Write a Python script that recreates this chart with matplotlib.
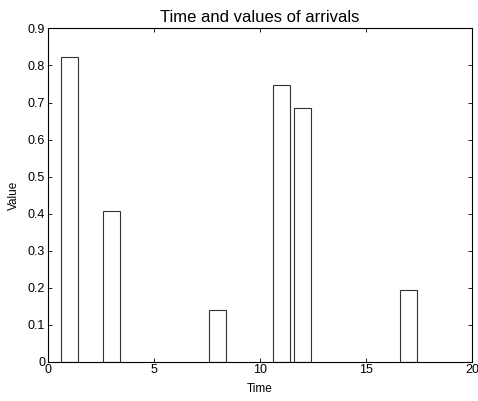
import matplotlib
matplotlib.use("Agg")
import matplotlib.pyplot as plt
from matplotlib.ticker import MultipleLocator

times = [1, 3, 8, 11, 12, 17]
values = [0.823, 0.407, 0.14, 0.748, 0.684, 0.194]

plt.rcParams['font.family'] = ['Liberation Sans', 'DejaVu Sans']

fig = plt.figure(figsize=(4.78, 4.01), dpi=100)
ax = fig.add_axes([0.1004, 0.098, 0.8871, 0.831])
ax.bar(times, values, width=0.8, facecolor='white', edgecolor='#333333', linewidth=0.8)
ax.set_xlim(0, 20)
ax.set_ylim(0, 0.9)
ax.xaxis.set_major_locator(MultipleLocator(5))
ax.yaxis.set_major_locator(MultipleLocator(0.1))
ax.set_yticklabels([f"{v:g}" for v in ax.get_yticks()])
ax.tick_params(direction='in', top=True, right=True, labelsize=9, length=3, width=0.6, pad=2)
for s in ax.spines.values():
    s.set_linewidth(0.8)
ax.set_title("Time and values of arrivals", fontsize=12, pad=5)
ax.set_xlabel("Time", fontsize=8.5, labelpad=5)
ax.set_ylabel("Value", fontsize=8.5, labelpad=6)
fig.savefig("out.png", dpi=100)
